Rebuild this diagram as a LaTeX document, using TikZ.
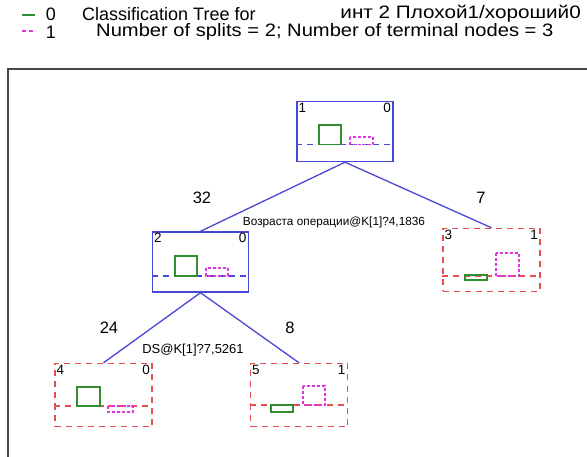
\documentclass[tikz,border=0pt]{standalone}
\usepackage{fontspec}
\setmainfont{Liberation Sans}
\definecolor{tblue}{RGB}{72,72,215}
\definecolor{tred}{RGB}{232,80,80}
\definecolor{tgreen}{RGB}{50,140,50}
\definecolor{tmag}{RGB}{225,50,225}
\definecolor{tframe}{RGB}{70,70,70}
\begin{document}
\begin{tikzpicture}[x=1pt,y=-1pt,
  splitbox/.style={draw=tblue,line width=1.4pt,minimum width=96pt,minimum height=60pt,inner sep=0pt},
  termbox/.style={draw=tred,line width=1.4pt,dash pattern=on 6pt off 5pt,minimum width=97pt,minimum height=63pt,inner sep=0pt},
  edge/.style={tblue,line width=1.3pt},
  gbar/.style={draw=tgreen,line width=1.2pt},
  mbar/.style={draw=tmag,line width=1.2pt,dash pattern=on 3pt off 2pt},
  bline/.style={tblue,line width=1.2pt,dash pattern=on 6pt off 5pt},
  rline/.style={tred,line width=1.2pt,dash pattern=on 6pt off 5pt},
  cnt/.style={font=\fontsize{16.5}{16.5}\selectfont,inner sep=0pt},
  rulea/.style={font=\fontsize{11.8}{11.8}\selectfont,inner sep=0pt},
  ruleb/.style={font=\fontsize{13}{13}\selectfont,inner sep=0pt},
  corner/.style={font=\fontsize{13.5}{13.5}\selectfont,inner sep=0pt},
  hdr/.style={font=\fontsize{18}{18}\selectfont,inner sep=0pt}]
\useasboundingbox (0,0) rectangle (587,457);
% legend and title
\draw[tgreen,line width=1.2pt] (22,15) -- (35,15);
\node[hdr] (l0) at (51,14) {0};
\draw[tmag,line width=1.2pt,dash pattern=on 4pt off 3pt] (22,31) -- (36,31);
\node[hdr] (l1) at (51,32) {1};
\node[hdr,anchor=west] (t1) at (82,14) {Classification Tree for};
\node[hdr,anchor=east] (t2) at (581,14) {\scalebox{1.15}[1]{инт 2 Плохой1/хороший0}};
\node[hdr,anchor=west] (t3) at (96,32) {\scalebox{1.12}[1]{Number of splits = 2; Number of terminal nodes = 3}};
% outer frame
\draw[tframe,line width=1.5pt] (8,457) -- (8,69) -- (587,69);
% nodes
\node[splitbox] (n1) at (345,131.5) {};
\node[splitbox] (n2) at (200.5,262) {};
\node[termbox] (n3) at (491.5,260) {};
\node[termbox] (n4) at (103.5,395) {};
\node[termbox] (n5) at (299,395) {};
% edges
\draw[edge] (n1.south) -- (n2.north);
\draw[edge] (n1.south) -- (n3.north);
\draw[edge] (n2.south) -- (n4.north);
\draw[edge] (n2.south) -- (n5.north);
% edge labels
\node[cnt] (c32) at (202,198) {32};
\node[cnt] (c7) at (481,198) {7};
\node[rulea] (r1) at (334,222) {Возраста операции@K[1]?4,1836};
\node[cnt] (c24) at (109,328) {24};
\node[cnt] (c8) at (290,328) {8};
\node[ruleb] (r2) at (193,350) {DS@K[1]?7,5261};
% corner labels
\node[corner,anchor=north west] (k1a) at ([xshift=2pt,yshift=-2pt]n1.north west) {1};
\node[corner,anchor=north east] (k1b) at ([xshift=-2.5pt,yshift=-2pt]n1.north east) {0};
\node[corner,anchor=north west] (k2a) at ([xshift=2pt,yshift=-2pt]n2.north west) {2};
\node[corner,anchor=north east] (k2b) at ([xshift=-2.5pt,yshift=-2pt]n2.north east) {0};
\node[corner,anchor=north west] (k3a) at ([xshift=2pt,yshift=-2pt]n3.north west) {3};
\node[corner,anchor=north east] (k3b) at ([xshift=-2.5pt,yshift=-2pt]n3.north east) {1};
\node[corner,anchor=north west] (k4a) at ([xshift=2pt,yshift=-2pt]n4.north west) {4};
\node[corner,anchor=north east] (k4b) at ([xshift=-2.5pt,yshift=-2pt]n4.north east) {0};
\node[corner,anchor=north west] (k5a) at ([xshift=2pt,yshift=-2pt]n5.north west) {5};
\node[corner,anchor=north east] (k5b) at ([xshift=-2.5pt,yshift=-2pt]n5.north east) {1};
% node 1 histogram
\draw[bline] (n1.west |- 0,144.5) -- (n1.east |- 0,144.5);
\draw[gbar] (319,125) rectangle (341,144.5);
\draw[mbar] (350,137) rectangle (373,144.5);
% node 2 histogram
\draw[bline] (n2.west |- 0,276) -- (n2.east |- 0,276);
\draw[gbar] (175,256) rectangle (197,276);
\draw[mbar] (206,268) rectangle (228,276);
% node 3 histogram
\draw[rline] (n3.west |- 0,276) -- (n3.east |- 0,276);
\draw[gbar] (465,275) rectangle (487,280);
\draw[mbar] (496,253) rectangle (519,276);
% node 4 histogram
\draw[rline] (n4.west |- 0,406) -- (n4.east |- 0,406);
\draw[gbar] (77,387) rectangle (100,406);
\draw[mbar] (108,406) rectangle (133,412);
% node 5 histogram
\draw[rline] (n5.west |- 0,405) -- (n5.east |- 0,405);
\draw[gbar] (271,405) rectangle (293,412);
\draw[mbar] (303,386) rectangle (325,405);
\end{tikzpicture}
\end{document}
